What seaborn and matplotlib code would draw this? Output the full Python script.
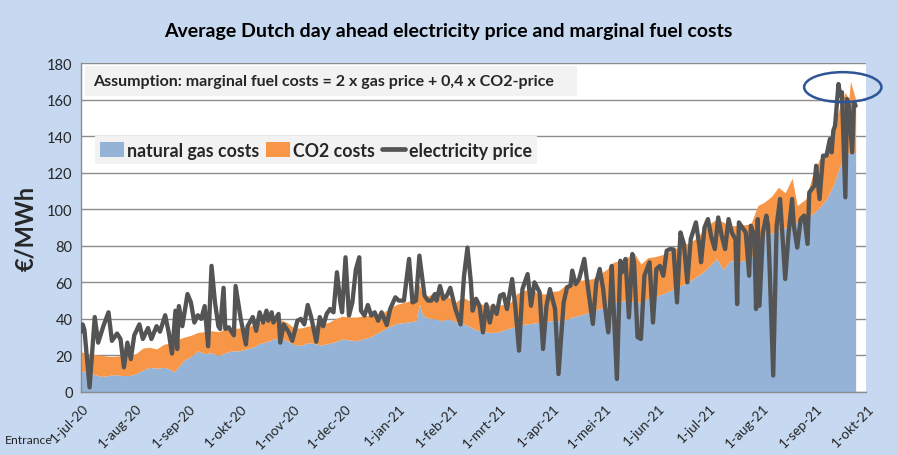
import numpy as np
import pandas as pd
import matplotlib
matplotlib.use("Agg")
import matplotlib.pyplot as plt
import matplotlib.dates as mdates
import matplotlib.transforms as mtransforms
from matplotlib.patches import Patch, Ellipse
from matplotlib.lines import Line2D
import seaborn as sns

# ---------------- data ----------------
start_date = "2020-07-01"

price_day = [0, 1, 2, 5, 8, 10, 13, 16, 18, 21, 23, 25, 27, 29, 31, 34, 36, 39, 41, 44,
             46, 49, 51, 53, 55, 56, 57, 59, 62, 64, 66, 68, 70, 72, 74, 76, 78, 80, 81, 83,
             84, 86, 89, 90, 93, 96, 97, 100, 102, 104, 106, 108, 109, 111, 112, 115, 116, 118, 121, 123,
             126, 128, 130, 132, 134, 137, 139, 141, 143, 145, 147, 149, 151, 152, 154, 156, 158, 160, 162, 163,
             165, 167, 169, 171, 173, 175, 178, 180, 183, 185, 188, 191, 193, 195, 197, 200, 202, 204, 206, 207,
             209, 211, 213, 215, 218, 221, 223, 225, 227, 228, 230, 232, 234, 236, 238, 240, 242, 244, 246, 248,
             251, 253, 255, 257, 260, 262, 264, 267, 269, 271, 273, 276, 278, 281, 283, 285, 286, 288, 290, 293,
             295, 298, 300, 302, 304, 305, 307, 308, 309, 312, 314, 315, 317, 319, 321, 322, 324, 326, 328, 331,
             333, 335, 337, 339, 341, 343, 345, 347, 349, 351, 353, 355, 358, 360, 361, 363, 365, 367, 369, 371,
             373, 375, 377, 379, 381, 382, 383, 385, 387, 389, 390, 392, 393, 394, 395, 397, 399, 400, 401, 403,
             405, 407, 408, 410, 412, 414, 415, 417, 419, 421, 423, 424, 427, 428, 430, 432, 434, 436, 437, 438,
             439, 441, 442, 443, 445, 446, 447, 449, 450, 451]
electricity_price = [33, 37, 34, 2.5, 41, 27, 36, 43.6, 28, 32, 29, 13.5, 27, 18, 31, 37, 29, 35, 29, 36,
                     33, 42, 33, 21, 44.5, 23.5, 47, 36, 53.6, 49, 38, 42, 40, 47, 25, 69, 49, 36, 34.5, 57,
                     34.5, 35.4, 31, 58, 40, 26, 36, 41, 33.5, 43.6, 38, 44.5, 39, 43.6, 38, 42.7, 27, 37, 32.6, 28,
                     39, 40, 37, 47.6, 41, 27.5, 41, 36, 42.7, 45.4, 43.6, 65.5, 49, 43.6, 73.7, 41.8, 49, 67, 73.7, 44.5,
                     41.8, 47.6, 41.8, 43.6, 39, 43.6, 36.7, 45.4, 51.8, 50, 50, 72.8, 49, 50, 74.6, 52.7, 50, 50, 53.6, 50,
                     58, 51, 52.7, 57, 45.4, 37, 63.6, 79, 60, 44.5, 51, 47.2, 32.6, 48, 38, 47.2, 42.7, 52.7, 53.6, 45.4,
                     61.8, 45.4, 22.6, 56.3, 64.5, 47.2, 60, 54.5, 23.5, 47.2, 56.3, 45.4, 9.8, 49, 57.3, 58.2, 66.4, 59, 61.8, 72.8,
                     58.2, 37.2, 60, 67.3, 56.3, 47.2, 32.6, 47.2, 69, 7.1, 71.8, 65.5, 72.8, 40.8, 75.5, 71, 30, 29, 63.6, 71,
                     38, 67.3, 69, 63.6, 77.3, 78.2, 78, 49, 87.3, 81, 60, 83.7, 92.8, 80, 71, 90, 94.6, 84.6, 78.2, 95.5,
                     85.5, 78.2, 94.6, 87, 83.7, 48.1, 92.8, 90, 87.3, 63.6, 91, 85.5, 45.4, 94.6, 47.2, 87.3, 96.5, 91, 65.5, 9,
                     91, 105.6, 91, 61.8, 87.3, 105.6, 91, 79, 94.6, 96.5, 81, 109.2, 112.9, 123.8, 105.6, 129.3, 129.3, 138.4, 131.1, 143,
                     145.7, 168.5, 162, 164, 106.5, 160.3, 156.6, 131.1, 158.5, 156.6]

cost_day = [0, 4, 8, 12, 16, 20, 24, 28, 32, 36, 40, 44, 48, 52, 54, 57, 60, 64, 68, 72,
            76, 80, 84, 88, 92, 96, 100, 104, 108, 112, 116, 120, 124, 128, 132, 136, 140, 144, 148, 152,
            156, 160, 164, 168, 172, 176, 180, 184, 188, 192, 195, 197, 199, 202, 206, 210, 214, 218, 222, 226,
            230, 234, 238, 242, 246, 250, 254, 258, 262, 266, 270, 274, 278, 282, 286, 290, 294, 298, 302, 306,
            310, 314, 318, 322, 326, 330, 334, 338, 342, 346, 350, 354, 358, 362, 366, 370, 374, 378, 382, 386,
            390, 394, 398, 402, 406, 410, 414, 417, 422, 426, 430, 434, 438, 442, 445, 447, 448, 451]
gas_costs = [11.5, 10.5, 9.5, 8.5, 9, 9.5, 9, 9, 10, 12, 13.5, 13, 13.5, 12.5, 11, 14, 17.5, 19.5, 22.5, 21,
             21.5, 20, 21.5, 22.5, 22.5, 23.5, 24.5, 26.5, 27.5, 29, 29.5, 28, 26, 25.5, 27, 26.5, 25.7, 26.5, 27.5, 29,
             28.5, 28, 29, 30, 32, 34, 36, 37.5, 38, 38.5, 39, 48, 41.8, 40.5, 40, 39, 40, 38.5, 37.5, 36,
             34, 33, 32.6, 32.6, 34, 35, 36, 37, 37.5, 38, 38.5, 39, 39, 39.5, 41, 42, 43, 44.5, 45.5, 47,
             49, 49.5, 50, 49.5, 49, 51, 52, 53.5, 55, 57, 58.5, 60.5, 63, 65.5, 69, 73, 67, 72, 71, 72,
             73, 80, 86, 87, 88, 90, 92, 93, 95, 97.5, 101, 105.6, 113, 124, 128, 131, 131, 131]
co2_costs = [10.5, 10.5, 11, 11.5, 10.5, 10, 11, 11, 11, 12, 11, 10.5, 12.5, 14.5, 14, 15, 12.5, 11.5, 10.1, 12,
             12, 13, 13, 12, 12.5, 12, 12, 11.5, 11.5, 11, 10, 10, 9, 9.5, 9, 10, 11.3, 11.5, 12.5, 12.5,
             12.5, 13, 12.5, 12, 10, 9.5, 10, 10.5, 11, 11.5, 14, 11, 10.2, 12, 14.5, 14, 11.8, 10.5, 14.5, 14,
             14, 15, 14.9, 14.6, 14, 14, 18, 18.5, 18.8, 16, 15.1, 16, 16.4, 19, 19, 19, 18.5, 17.5, 19, 20,
             22, 22.5, 23.7, 26.5, 21, 22.5, 22, 21.5, 21.5, 21.5, 22, 21, 21, 22.5, 23, 21.6, 26, 19, 20, 19.5,
             19, 22, 18, 20, 24, 19, 25, 9, 10.6, 21.5, 26.5, 23.7, 31, 33, 36, 29, 39, 29]

tick_labels = ["1-jul-20", "1-aug-20", "1-sep-20", "1-okt-20", "1-nov-20", "1-dec-20",
               "1-jan-21", "1-feb-21", "1-mrt-21", "1-apr-21", "1-mei-21", "1-jun-21",
               "1-jul-21", "1-aug-21", "1-sep-21", "1-okt-21"]
y_ticks = [0, 20, 40, 60, 80, 100, 120, 140, 160, 180]

title = "Average Dutch day ahead electricity price and marginal fuel costs"
assumption = "Assumption: marginal fuel costs = 2 x gas price + 0,4 x CO2-price"
series_names = ["natural gas costs", "CO2 costs", "electricity price"]

# ---------------- build frames ----------------
t0 = pd.Timestamp(start_date)
price_df = pd.DataFrame({"date": t0 + pd.to_timedelta(price_day, unit="D"),
                         "price": electricity_price})
cost_df = pd.DataFrame({"date": t0 + pd.to_timedelta(cost_day, unit="D"),
                        "gas": gas_costs, "co2": co2_costs})

# ---------------- style ----------------
sns.set_theme(style="white")
plt.rcParams["font.family"] = ["Lato", "DejaVu Sans"]

BG = "#c6d9f1"
BLUE = "#95b3d7"
ORANGE = "#f79646"
LINE = "#545454"
GRID = "#8c8c8c"

fig = plt.figure(figsize=(8.97, 4.56), dpi=100, facecolor=BG)
ax = fig.add_axes([0.0903, 0.1382, 0.8751, 0.7214])
ax.set_facecolor("white")

ax.stackplot(cost_df["date"], cost_df["gas"], cost_df["co2"],
             colors=[BLUE, ORANGE], linewidth=0, zorder=2)
sns.lineplot(data=price_df, x="date", y="price", ax=ax, color=LINE,
             linewidth=3.1, zorder=3, legend=False)

# axes limits / ticks
month_ticks = pd.date_range(t0, periods=len(tick_labels), freq="MS")
ax.set_xlim(month_ticks[0], month_ticks[-1])
ax.set_ylim(y_ticks[0], y_ticks[-1])
ax.set_yticks(y_ticks)
ax.set_yticklabels([str(v) for v in y_ticks], fontsize=10.5)
ax.set_xticks(month_ticks)
ax.set_xticklabels(tick_labels, rotation=45, ha="right", va="center",
                   rotation_mode="anchor", fontsize=9.8)
ax.tick_params(axis="x", direction="in", length=4, color=GRID, pad=10)
ax.tick_params(axis="y", length=0, pad=6)
shift = mtransforms.ScaledTranslation(6 / 100, 0, fig.dpi_scale_trans)
for lbl in ax.get_xticklabels():
    lbl.set_transform(lbl.get_transform() + shift)
ax.set_xlabel("")
ax.set_ylabel("€/MWh", fontsize=17, fontweight="bold", labelpad=7)
ax.yaxis.grid(True, color=GRID, linewidth=1.0, zorder=1)
ax.set_axisbelow(True)
for s in ["top", "right"]:
    ax.spines[s].set_visible(False)
for s in ["left", "bottom"]:
    ax.spines[s].set_color(GRID)
    ax.spines[s].set_linewidth(1.0)
ax.spines["bottom"].set_zorder(4)

# title
fig.text(0.5, 0.932, title, ha="center", va="center", fontsize=14, fontweight="bold", color="black")

# assumption box
ax.text(0.015, 0.944, assumption + "    ", transform=ax.transAxes, ha="left", va="center",
        fontsize=11.5, fontweight="bold", color="#262626", zorder=6,
        bbox=dict(boxstyle="square,pad=0.5", facecolor="#f2f2f2", edgecolor="none"))

# legend
handles = [Patch(facecolor=BLUE, edgecolor="none"),
           Patch(facecolor=ORANGE, edgecolor="none"),
           Line2D([0], [0], color=LINE, linewidth=3.4)]
leg = ax.legend(handles, series_names, ncol=3, loc="center left",
                bbox_to_anchor=(0.018, 0.735), frameon=True, fancybox=False,
                facecolor="#f2f2f2", edgecolor="none", framealpha=1,
                prop={"size": 12.8, "weight": "bold"}, handlelength=1.3, handleheight=0.9,
                handletextpad=0.2, columnspacing=0.4, borderpad=0.3, borderaxespad=0)
for txt in leg.get_texts():
    txt.set_color("#262626")
leg.set_zorder(6)

# ellipse highlight
cx = mdates.date2num(t0 + pd.Timedelta(days=443.5))
ell = Ellipse((cx, 166.8), width=45, height=16.4, fill=False, edgecolor="#2f5597",
              linewidth=1.8, transform=ax.transData, clip_on=False, zorder=7)
ax.add_patch(ell)

# footer
fig.text(0.005, 0.033, "Entrance", ha="left", va="center", fontsize=8.8, color="#262626")

fig.savefig("out.png", dpi=100, facecolor=BG)
